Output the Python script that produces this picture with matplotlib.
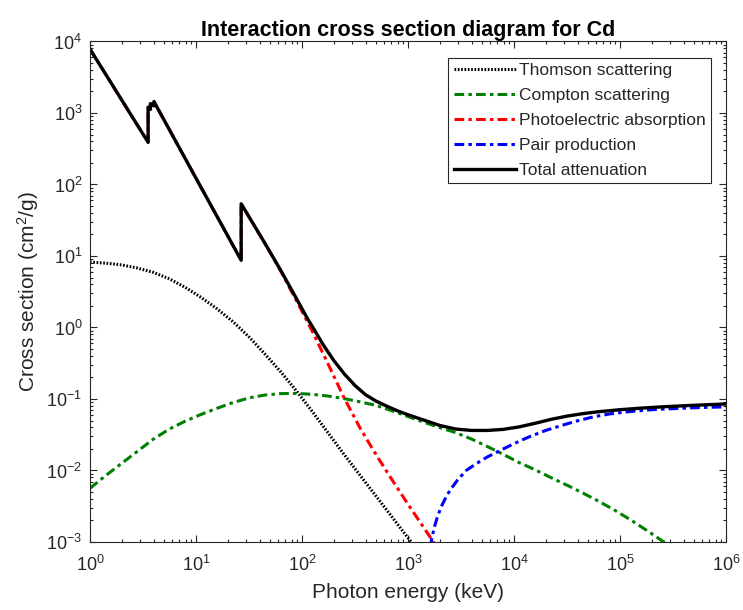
import numpy as np
import matplotlib
matplotlib.use('Agg')
import matplotlib.pyplot as plt
from matplotlib.ticker import LogLocator, NullFormatter

# values, stored as log10:
# energy in keV, cross section in cm^2/g
thomson_log_e = [0, 0.15, 0.3, 0.45, 0.6, 0.75, 0.9, 1.05, 1.2, 1.35, 1.5, 1.65, 1.8,
                 1.95, 2.1, 2.25, 2.4, 2.55, 2.7, 2.85, 3.0, 3.1]
thomson_log_s = [0.915, 0.90, 0.875, 0.83, 0.77, 0.68, 0.56, 0.42, 0.26, 0.08, -0.13, -0.37,
                 -0.62, -0.89, -1.18, -1.48, -1.78, -2.07, -2.36, -2.65, -2.94, -3.13]

compton_log_e = [0, 0.15, 0.3, 0.45, 0.6, 0.75, 0.9, 1.05, 1.2, 1.35, 1.5, 1.65, 1.8, 1.95,
                 2.1, 2.25, 2.4, 2.55, 2.7, 2.85, 3.0, 3.15, 3.3, 3.45, 3.6, 3.75, 3.9, 4.05,
                 4.2, 4.35, 4.5, 4.65, 4.8, 4.95, 5.1, 5.25, 5.4, 5.55]
compton_log_s = [-2.25, -2.07, -1.90, -1.73, -1.56, -1.42, -1.31, -1.215, -1.13, -1.05,
                 -0.985, -0.945, -0.925, -0.922, -0.935, -0.96, -0.995, -1.04, -1.09, -1.165,
                 -1.245, -1.325, -1.40, -1.47, -1.56, -1.665, -1.775, -1.89, -1.99, -2.10,
                 -2.205, -2.315, -2.43, -2.555, -2.69, -2.835, -2.985, -3.14]

# L3, L2, L1 edges near 3.5-4 keV, K edge at 26.7 keV
photo_log_e = [0, 0.549, 0.549, 0.571, 0.571, 0.604, 0.604, 1.0, 1.427, 1.427, 1.5, 1.65,
               1.8, 1.95, 2.1, 2.25, 2.4, 2.55, 2.7, 2.85, 3.0, 3.15, 3.3]
photo_log_s = [3.895, 2.59, 3.08, 3.05, 3.13, 3.10, 3.16, 2.09, 0.94, 1.73, 1.55, 1.18,
               0.79, 0.37, -0.06, -0.52, -0.99, -1.41, -1.78, -2.13, -2.47, -2.80, -3.13]

pair_log_e = [3.21, 3.23, 3.25, 3.28, 3.32, 3.36, 3.40, 3.47, 3.55, 3.65, 3.75, 3.85, 4.0,
              4.15, 4.3, 4.45, 4.6, 4.75, 4.9, 5.1, 5.3, 5.5, 5.75, 6.0]
pair_log_s = [-3.08, -2.92, -2.79, -2.64, -2.49, -2.37, -2.27, -2.13, -2.00, -1.90, -1.81,
              -1.735, -1.625, -1.525, -1.44, -1.37, -1.305, -1.25, -1.21, -1.175, -1.15,
              -1.135, -1.12, -1.11]

total_log_e = [0, 0.549, 0.549, 0.571, 0.571, 0.604, 0.604, 1.0, 1.427, 1.427, 1.5, 1.65,
               1.8, 1.95, 2.05, 2.1, 2.2, 2.3, 2.4, 2.5, 2.6, 2.7, 2.8, 2.9, 3.0, 3.15, 3.3,
               3.45, 3.6, 3.75, 3.9, 4.05, 4.2, 4.35, 4.5, 4.65, 4.8, 5.0, 5.2, 5.4, 5.6,
               5.8, 6.0]
total_log_s = [3.895, 2.59, 3.08, 3.05, 3.13, 3.10, 3.16, 2.09, 0.94, 1.73, 1.55, 1.18,
               0.80, 0.40, 0.13, 0.01, -0.24, -0.46, -0.65, -0.81, -0.94, -1.03, -1.10,
               -1.165, -1.22, -1.295, -1.37, -1.42, -1.44, -1.44, -1.425, -1.39, -1.34,
               -1.285, -1.24, -1.205, -1.178, -1.15, -1.128, -1.11, -1.095, -1.082, -1.07]

plt.rcParams['font.family'] = ['Liberation Sans', 'DejaVu Sans']
plt.rcParams['mathtext.fontset'] = 'custom'
plt.rcParams['mathtext.rm'] = 'Liberation Sans'
plt.rcParams['mathtext.it'] = 'Liberation Sans:italic'
plt.rcParams['lines.scale_dashes'] = False

grey = '#262626'


def pow10(values):
    return np.power(10.0, np.array(values))


fig = plt.figure(figsize=(7.43, 6.10), dpi=100)
ax = fig.add_axes([0.121, 0.1115, 0.856, 0.8205])

# line styles (MATLAB-like)
dotted = (0, (1.2, 1.2))
dashdot = (0, (7, 3, 2.5, 3))
ax.plot(pow10(thomson_log_e), pow10(thomson_log_s), color='black', linewidth=2.2,
        linestyle=dotted, label='Thomson scattering')
ax.plot(pow10(compton_log_e), pow10(compton_log_s), color=(0, 0.5, 0), linewidth=2.2,
        linestyle=dashdot, label='Compton scattering')
ax.plot(pow10(photo_log_e), pow10(photo_log_s), color='red', linewidth=2.2,
        linestyle=dashdot, label='Photoelectric absorption')
ax.plot(pow10(pair_log_e), pow10(pair_log_s), color='blue', linewidth=2.2,
        linestyle=dashdot, label='Pair production')
ax.plot(pow10(total_log_e), pow10(total_log_s), color='black', linewidth=2.4,
        linestyle='-', label='Total attenuation')

ax.set_xscale('log')
ax.set_yscale('log')
ax.set_xlim(1, 1e6)
ax.set_ylim(1e-3, 1e4)

# ticks on every decade, minor ticks 2..9
for axis in (ax.xaxis, ax.yaxis):
    axis.set_major_locator(LogLocator(base=10, numticks=20))
    axis.set_minor_locator(LogLocator(base=10, subs=np.arange(2, 10), numticks=100))
    axis.set_minor_formatter(NullFormatter())
ax.tick_params(which='both', direction='in', top=True, right=True, colors=grey,
               labelsize=13, width=0.8)
ax.tick_params(which='major', length=5)
ax.tick_params(which='minor', length=2.5)
ax.tick_params(axis='x', which='major', pad=9)
ax.tick_params(axis='y', which='major', pad=5.5)
for s in ax.spines.values():
    s.set_color(grey)
    s.set_linewidth(0.8)

ax.set_xlabel('Photon energy (keV)', fontsize=15, color=grey, labelpad=6)
ax.set_ylabel('Cross section (cm$^2$/g)', fontsize=15, color=grey)
ax.set_title('Interaction cross section diagram for Cd', fontsize=15.5, fontweight='bold', pad=4)

leg = ax.legend(loc='upper right', bbox_to_anchor=(0.976, 0.967), borderaxespad=0,
                fontsize=12.5, handlelength=3.6, handletextpad=0.15, labelspacing=0.56,
                fancybox=False, framealpha=1, borderpad=0.3)
leg.get_frame().set_edgecolor(grey)
leg.get_frame().set_linewidth(0.8)
for t in leg.get_texts():
    t.set_color(grey)

plt.savefig('out.png', dpi=100)
